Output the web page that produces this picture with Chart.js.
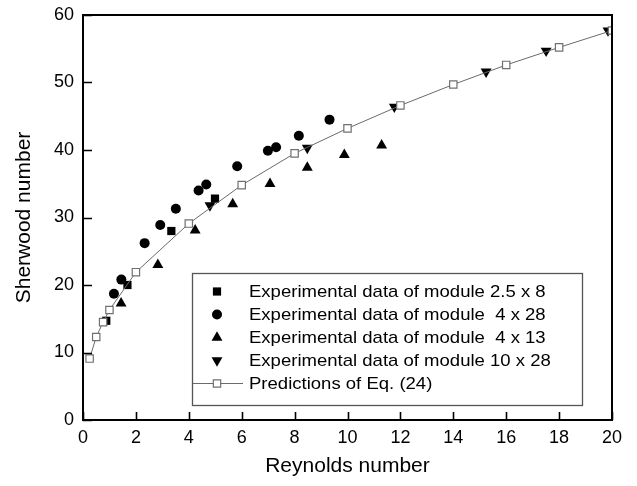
<!DOCTYPE html>
<html>
<head>
<meta charset="utf-8">
<script src="https://cdn.jsdelivr.net/npm/chart.js@4.4.1/dist/chart.umd.min.js"></script>
<style>
  html, body { margin: 0; padding: 0; background: #fff; }
  #wrap { width: 637px; height: 486px; position: relative; }
</style>
</head>
<body>
<div id="wrap"><canvas id="c" width="637" height="486"></canvas></div>
<script>
// ---- data ----
const xTicks = [0, 2, 4, 6, 8, 10, 12, 14, 16, 18, 20];
const yTicks = [0, 10, 20, 30, 40, 50, 60];

const mod2p5x8_Re = [0.88, 1.68, 3.34, 4.99];
const mod2p5x8_Sh = [14.7, 20.0, 28.0, 32.8];

const mod4x28_Re = [1.17, 1.45, 2.33, 2.92, 3.51, 4.37, 4.66, 5.83, 6.99, 7.30, 8.16, 9.32];
const mod4x28_Sh = [18.7, 20.8, 26.2, 28.9, 31.3, 34.0, 34.9, 37.6, 39.9, 40.4, 42.1, 44.5];

const mod4x13_Re = [1.44, 2.83, 4.24, 5.66, 7.07, 8.48, 9.88, 11.29];
const mod4x13_Sh = [17.3, 23.0, 28.1, 32.0, 35.0, 37.4, 39.3, 40.7];

const mod10x28_Re = [4.80, 8.48, 11.77, 15.24, 17.51, 19.85];
const mod10x28_Sh = [31.8, 40.3, 46.4, 51.6, 54.7, 57.7];

const pred_Re = [0.25, 0.5, 0.76, 1.0, 2.0, 4.0, 6.0, 8.0, 10.0, 12.0, 14.0, 16.0, 18.0, 20.0];
const pred_Sh = [9.1, 12.3, 14.5, 16.3, 21.9, 29.1, 34.8, 39.5, 43.2, 46.6, 49.7, 52.6, 55.2, 57.7];

const seriesLabels = [
  'Experimental data of module 2.5 x 8',
  'Experimental data of module  4 x 28',
  'Experimental data of module  4 x 13',
  'Experimental data of module 10 x 28',
  'Predictions of Eq. (24)'
];
const xTitle = 'Reynolds number';
const yTitle = 'Sherwood number';

// ---- build ----
const FONT = '"Liberation Sans", Arial, Helvetica, sans-serif';
function pts(xs, ys) { return xs.map((x, i) => ({ x: x, y: ys[i] })); }

const datasets = [
  { label: seriesLabels[4], data: pts(pred_Re, pred_Sh), showLine: true,
    borderColor: '#6a6a6a', borderWidth: 1, pointStyle: 'rect', pointRadius: 5.2,
    pointBackgroundColor: '#ffffff', pointBorderColor: '#707070', pointBorderWidth: 1.2, order: 0 },
  { label: seriesLabels[0], data: pts(mod2p5x8_Re, mod2p5x8_Sh), showLine: false,
    pointStyle: 'rect', pointRadius: 5.8, backgroundColor: '#000', borderColor: '#000', pointBorderWidth: 0, order: 1 },
  { label: seriesLabels[1], data: pts(mod4x28_Re, mod4x28_Sh), showLine: false,
    pointStyle: 'circle', pointRadius: 5, backgroundColor: '#000', borderColor: '#000', pointBorderWidth: 0, order: 1 },
  { label: seriesLabels[2], data: pts(mod4x13_Re, mod4x13_Sh), showLine: false,
    pointStyle: 'triangle', pointRadius: 6.3, backgroundColor: '#000', borderColor: '#000', pointBorderWidth: 0, order: 1 },
  { label: seriesLabels[3], data: pts(mod10x28_Re, mod10x28_Sh), showLine: false,
    pointStyle: 'triangle', pointRotation: 180, pointRadius: 6.3, backgroundColor: '#000', borderColor: '#000', pointBorderWidth: 0, order: 1 }
];

const framePlugin = {
  id: 'frame',
  afterDraw(chart) {
    const ctx = chart.ctx, a = chart.chartArea;
    const xs = chart.scales.x, ys = chart.scales.y;
    ctx.save();
    ctx.strokeStyle = '#000';
    ctx.lineWidth = 1.6;
    // inward tick marks
    ctx.beginPath();
    xTicks.forEach(v => {
      const px = Math.round(xs.getPixelForValue(v)) + 0.5;
      ctx.moveTo(px, a.bottom); ctx.lineTo(px, a.bottom - 8);
    });
    yTicks.forEach(v => {
      const py = Math.round(ys.getPixelForValue(v)) + 0.5;
      ctx.moveTo(a.left, py); ctx.lineTo(a.left + 9, py);
    });
    ctx.stroke();
    // frame
    ctx.lineWidth = 2;
    ctx.strokeRect(a.left, a.top, a.right - a.left, a.bottom - a.top);

    // legend box
    const bx = 192, by = 273, bw = 390, bh = 132;
    ctx.lineWidth = 1.3;
    ctx.strokeStyle = '#555';
    ctx.fillStyle = '#fff';
    ctx.fillRect(bx, by, bw, bh);
    ctx.strokeRect(bx + 0.5, by + 0.5, bw, bh);
    const order = [1, 2, 3, 4, 0];
    order.forEach((di, i) => {
      const ds = chart.data.datasets[di];
      const y = 291.5 + 23 * i;
      const mx = 217;
      if (ds.showLine) {
        ctx.strokeStyle = ds.borderColor;
        ctx.lineWidth = 1;
        ctx.beginPath();
        ctx.moveTo(bx + 1, y); ctx.lineTo(243, y);
        ctx.stroke();
        ctx.fillStyle = ds.pointBackgroundColor;
        ctx.strokeStyle = ds.pointBorderColor;
        ctx.lineWidth = ds.pointBorderWidth;
      } else {
        ctx.fillStyle = ds.backgroundColor;
        ctx.strokeStyle = ds.borderColor;
        ctx.lineWidth = 0;
      }
      Chart.helpers.drawPoint(ctx, {
        pointStyle: ds.pointStyle, radius: ds.pointRadius,
        rotation: ds.pointRotation || 0, borderWidth: ds.showLine ? ds.pointBorderWidth : 0
      }, mx, y);
      ctx.save();
      ctx.translate(249, y + 1);
      ctx.scale(1.09, 1);
      ctx.font = '17px ' + FONT;
      ctx.textBaseline = 'middle';
      ctx.textAlign = 'left';
      ctx.fillStyle = '#000';
      ctx.fillText(ds.label, 0, 0);
      ctx.restore();
    });
    ctx.restore();
  }
};

new Chart(document.getElementById('c'), {
  type: 'scatter',
  data: { datasets: datasets },
  options: {
    responsive: false,
    animation: false,
    devicePixelRatio: 1,
    layout: { padding: { top: 15, right: 25, bottom: 0, left: 0 } },
    plugins: { legend: { display: false }, tooltip: { enabled: false } },
    scales: {
      x: {
        type: 'linear', min: 0, max: 20,
        afterBuildTicks(s) { s.ticks = xTicks.map(v => ({ value: v })); },
        afterFit(s) { s.height = 66; s.paddingLeft = 0; s.paddingRight = 0; },
        grid: { display: false, drawTicks: false },
        border: { display: false },
        ticks: { color: '#000', padding: 7, maxRotation: 0, font: { family: FONT, size: 18 } },
        title: { display: true, text: xTitle, color: '#000', padding: { top: 0, bottom: 7 },
                 font: { family: FONT, size: 21 } }
      },
      y: {
        type: 'linear', min: 0, max: 60,
        afterBuildTicks(s) { s.ticks = yTicks.map(v => ({ value: v })); },
        afterFit(s) { s.width = 83; s.paddingTop = 0; s.paddingBottom = 0; },
        grid: { display: false, drawTicks: false },
        border: { display: false },
        ticks: { color: '#000', padding: 9, font: { family: FONT, size: 18 } },
        title: { display: true, text: yTitle, color: '#000', padding: { top: 12, bottom: 0 },
                 font: { family: FONT, size: 21 } }
      }
    }
  },
  plugins: [framePlugin]
});
</script>
</body>
</html>
